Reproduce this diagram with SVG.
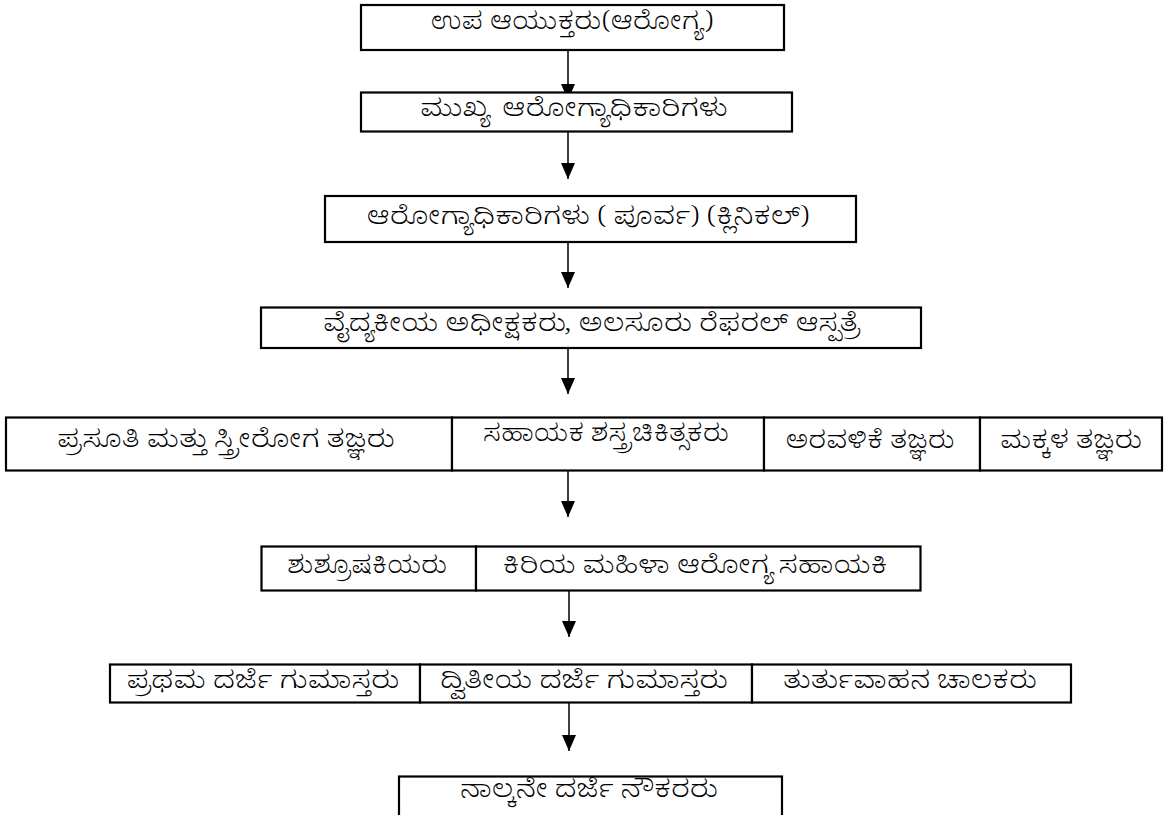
<svg xmlns="http://www.w3.org/2000/svg" width="1167" height="815" viewBox="0 0 1167 815">
<style>
.box{fill:#fff;stroke:#000;stroke-width:2.2}
.t{font-family:'Noto Serif Kannada','Noto Sans Kannada',Tunga,'Lohit Kannada','Noto Sans','DejaVu Sans',sans-serif;font-size:25px;font-weight:300;fill:#000;text-anchor:middle}
.c{stroke:#000;stroke-width:1.5;fill:none}
</style>
<defs>
<marker id="ah" markerUnits="userSpaceOnUse" markerWidth="16" markerHeight="14" refX="16" refY="7" orient="auto">
<path d="M0,0 L16,7 L0,14 Z" fill="#000"/>
</marker>
</defs>
<rect width="1167" height="815" fill="#fff"/>
<g id="connectors">
<line class="c" x1="568" y1="51" x2="568" y2="100" marker-end="url(#ah)"/>
<line class="c" x1="568" y1="132" x2="568" y2="179" marker-end="url(#ah)"/>
<line class="c" x1="568" y1="243" x2="568" y2="288" marker-end="url(#ah)"/>
<line class="c" x1="568" y1="349" x2="568" y2="394" marker-end="url(#ah)"/>
<line class="c" x1="568" y1="471" x2="568" y2="517" marker-end="url(#ah)"/>
<line class="c" x1="569" y1="591" x2="569" y2="637" marker-end="url(#ah)"/>
<line class="c" x1="569" y1="703" x2="569" y2="751" marker-end="url(#ah)"/>
</g>
<g id="n1"><rect class="box" x="361" y="5" width="423" height="45"/><text class="t" x="572" y="29" textLength="283" lengthAdjust="spacingAndGlyphs">ಉಪ ಆಯುಕ್ತರು(ಆರೋಗ್ಯ)</text></g>
<g id="n2"><rect class="box" x="361" y="92.5" width="431" height="39"/><text class="t" x="574" y="116" textLength="308" lengthAdjust="spacingAndGlyphs" xml:space="preserve">ಮುಖ್ಯ  ಆರೋಗ್ಯಾಧಿಕಾರಿಗಳು</text></g>
<g id="n3"><rect class="box" x="325" y="196" width="531" height="46"/><text class="t" x="588" y="224" textLength="443" lengthAdjust="spacingAndGlyphs">ಆರೋಗ್ಯಾಧಿಕಾರಿಗಳು ( ಪೂರ್ವ) (ಕ್ಲಿನಿಕಲ್)</text></g>
<g id="n4"><rect class="box" x="261" y="307.5" width="660" height="40.5"/><text class="t" x="591" y="331" textLength="536" lengthAdjust="spacingAndGlyphs">ವೈದ್ಯಕೀಯ ಅಧೀಕ್ಷಕರು, ಅಲಸೂರು ರೆಫರಲ್ ಆಸ್ಪತ್ರೆ</text></g>
<g id="n5a"><rect class="box" x="6" y="417.5" width="446" height="53"/><text class="t" x="226" y="447" textLength="338" lengthAdjust="spacingAndGlyphs">ಪ್ರಸೂತಿ ಮತ್ತು ಸ್ತ್ರೀರೋಗ ತಜ್ಞರು</text></g>
<g id="n5b"><rect class="box" x="452" y="417.5" width="312" height="53"/><text class="t" x="606" y="441" textLength="246" lengthAdjust="spacingAndGlyphs">ಸಹಾಯಕ ಶಸ್ತ್ರಚಿಕಿತ್ಸಕರು</text></g>
<g id="n5c"><rect class="box" x="764" y="417.5" width="216" height="53"/><text class="t" x="870" y="448" textLength="169" lengthAdjust="spacingAndGlyphs">ಅರವಳಿಕೆ ತಜ್ಞರು</text></g>
<g id="n5d"><rect class="box" x="980" y="417.5" width="182" height="53"/><text class="t" x="1071" y="448" textLength="142" lengthAdjust="spacingAndGlyphs">ಮಕ್ಕಳ ತಜ್ಞರು</text></g>
<g id="n6a"><rect class="box" x="261.5" y="546.5" width="214.5" height="44"/><text class="t" x="367" y="573" textLength="160" lengthAdjust="spacingAndGlyphs">ಶುಶ್ರೂಷಕಿಯರು</text></g>
<g id="n6b"><rect class="box" x="476" y="546.5" width="444.5" height="44"/><text class="t" x="695" y="573" textLength="385" lengthAdjust="spacingAndGlyphs">ಕಿರಿಯ ಮಹಿಳಾ ಆರೋಗ್ಯ ಸಹಾಯಕಿ</text></g>
<g id="n7a"><rect class="box" x="110" y="664.5" width="310" height="38"/><text class="t" x="263" y="688" textLength="273" lengthAdjust="spacingAndGlyphs">ಪ್ರಥಮ ದರ್ಜೆ ಗುಮಾಸ್ತರು</text></g>
<g id="n7b"><rect class="box" x="420" y="664.5" width="332" height="38"/><text class="t" x="584" y="688" textLength="288" lengthAdjust="spacingAndGlyphs">ದ್ವಿತೀಯ ದರ್ಜೆ ಗುಮಾಸ್ತರು</text></g>
<g id="n7c"><rect class="box" x="752" y="664.5" width="319" height="38"/><text class="t" x="910" y="688" textLength="254" lengthAdjust="spacingAndGlyphs">ತುರ್ತುವಾಹನ ಚಾಲಕರು</text></g>
<g id="n8"><rect class="box" x="399" y="776.5" width="383" height="60"/><text class="t" x="589" y="797" textLength="258" lengthAdjust="spacingAndGlyphs">ನಾಲ್ಕನೇ ದರ್ಜೆ ನೌಕರರು</text></g>
</svg>
